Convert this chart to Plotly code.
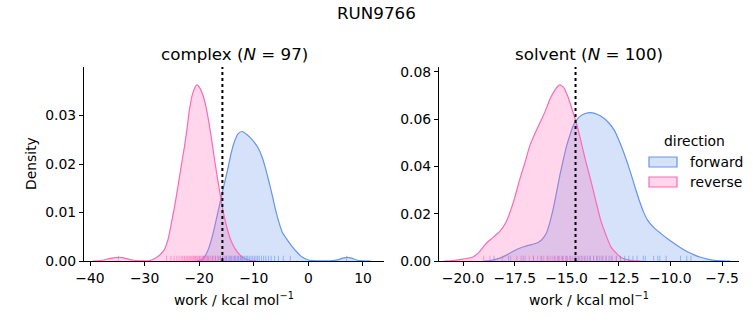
import plotly.graph_objects as go

# Kernel density estimates of the work distributions (work in kcal/mol, density)
complex_rev_x = [-39.5, -38.5, -37.5, -36.5, -35.5, -34.7, -34.0, -33.0, -32.0, -31.0, -30.0, -29.0,
                 -28.5, -28.0, -27.0, -26.4, -25.7, -25.1, -24.5, -23.9, -23.3, -22.7, -22.2, -21.8,
                 -21.2, -20.45, -19.8, -19.05, -18.4, -17.8, -17.2, -16.6, -16.0, -15.4, -14.8, -14.2,
                 -13.4, -12.5, -11.5, -10.5, -9.5]
complex_rev_y = [0, 0.00005, 0.0002, 0.0005, 0.0007, 0.00076, 0.0007, 0.0004, 0.00015, 0.00005, 0.00003,
                 0.0001, 0.0003, 0.0006, 0.0015, 0.0023, 0.0045, 0.0078, 0.0113, 0.0153, 0.0195, 0.0236,
                 0.0275, 0.0311, 0.0345, 0.0363, 0.0355, 0.0332, 0.0297, 0.0256, 0.0210, 0.0167, 0.0127,
                 0.0091, 0.0064, 0.0043, 0.0025, 0.0012, 0.0004, 0.0001, 0]

complex_fwd_x = [-20.5, -19.5, -19.0, -18.3, -17.5, -16.6, -15.7, -14.8, -14.2, -13.55, -12.9, -12.15,
                 -11.4, -10.7, -10.0, -9.2, -8.5, -7.9, -7.3, -6.6, -6.0, -5.4, -4.8, -3.9, -3.0, -2.0,
                 -1.15, 0.0, 1.5, 3.0, 4.5, 5.5, 6.3, 7.1, 7.9, 8.8, 10.0, 11.5]
complex_fwd_y = [0, 0.0003, 0.0009, 0.0025, 0.0055, 0.0099, 0.0145, 0.0188, 0.0220, 0.0246, 0.0262,
                 0.0267, 0.0262, 0.0255, 0.0246, 0.0233, 0.0215, 0.0193, 0.0167, 0.0135, 0.0105, 0.0080,
                 0.0060, 0.0044, 0.0030, 0.0017, 0.0008, 0.0002, 0.00005, 0.00003, 0.0001, 0.0003, 0.0006,
                 0.00076, 0.0006, 0.0002, 0.00003, 0]

solvent_rev_x = [-20.9, -20.5, -20.0, -19.5, -19.2, -18.88, -18.55, -18.24, -17.95, -17.75, -17.5, -17.27,
                 -17.0, -16.79, -16.55, -16.3, -16.05, -15.82, -15.55, -15.34, -15.15, -14.94, -14.73,
                 -14.53, -14.32, -14.1, -13.84, -13.6, -13.36, -13.1, -12.87, -12.6, -12.39, -12.1, -11.8,
                 -11.4]
solvent_rev_y = [0, 0.0002, 0.0008, 0.0018, 0.0040, 0.0075, 0.0100, 0.0124, 0.0160, 0.0202, 0.0270, 0.0343,
                 0.0420, 0.0484, 0.0535, 0.0583, 0.0630, 0.0682, 0.0725, 0.0745, 0.0735, 0.0696, 0.0640,
                 0.0583, 0.0512, 0.0430, 0.0343, 0.0258, 0.0174, 0.0110, 0.0061, 0.0033, 0.0016, 0.0006,
                 0.0002, 0]

solvent_fwd_x = [-19.0, -18.7, -18.3, -17.9, -17.6, -17.27, -16.9, -16.46, -16.2, -15.98, -15.82, -15.66,
                 -15.5, -15.34, -15.17, -15.01, -14.85, -14.7, -14.53, -14.37, -14.1, -13.84, -13.5, -13.2,
                 -12.95, -12.71, -12.47, -12.23, -11.9, -11.7, -11.5, -11.3, -11.1, -10.8, -10.46, -10.14,
                 -9.82, -9.5, -9.17, -8.85, -8.53, -8.2, -7.89, -7.5, -7.1]
solvent_fwd_y = [0, 0.0002, 0.0010, 0.0025, 0.0040, 0.0054, 0.0065, 0.0075, 0.0090, 0.0117, 0.0160, 0.0216,
                 0.0285, 0.0357, 0.0425, 0.0484, 0.0530, 0.0569, 0.0595, 0.0611, 0.0624, 0.0628, 0.0620,
                 0.0604, 0.0583, 0.0555, 0.0510, 0.0456, 0.0371, 0.0313, 0.0258, 0.0210, 0.0174, 0.0142,
                 0.0117, 0.0095, 0.0075, 0.0056, 0.0039, 0.0026, 0.0016, 0.0008, 0.0003, 0.0001, 0]

# Individual work values shown as rug ticks
complex_rev_work = [-34.8, -26.0, -25.2, -24.6, -24.1, -23.7, -23.3, -23.0, -22.7, -22.4, -22.2, -21.9,
                    -21.7, -21.5, -21.3, -21.1, -20.9, -20.7, -20.6, -20.4, -20.2, -20.0, -19.9, -19.7,
                    -19.5, -19.3, -19.1, -18.9, -18.7, -18.4, -18.2, -17.9, -17.6, -17.3, -17.0, -16.6,
                    -16.2, -15.7, -15.1, -14.3, -13.5, -12.4]
complex_fwd_work = [-19.3, -18.4, -17.6, -17.0, -16.5, -16.1, -15.7, -15.3, -15.0, -14.7, -14.4, -14.1,
                    -13.8, -13.5, -13.3, -13.0, -12.8, -12.5, -12.3, -12.1, -11.8, -11.6, -11.3, -11.1,
                    -10.8, -10.5, -10.2, -9.9, -9.6, -9.3, -9.0, -8.6, -8.2, -7.8, -7.3, -6.8, -6.2, -5.5,
                    -4.6, -3.3, 7.0]
solvent_rev_work = [-19.0, -18.7, -18.1, -17.7, -17.4, -17.2, -17.0, -16.8, -16.6, -16.4, -16.25, -16.1,
                    -15.95, -15.8, -15.7, -15.55, -15.45, -15.35, -15.25, -15.15, -15.05, -14.95, -14.85,
                    -14.7, -14.55, -14.4, -14.25, -14.1, -13.9, -13.7, -13.5, -13.3, -13.1, -12.85, -12.6]
solvent_fwd_work = [-18.5, -17.8, -17.1, -16.6, -16.2, -15.9, -15.6, -15.4, -15.2, -15.0, -14.8, -14.6,
                    -14.45, -14.3, -14.15, -14.0, -13.85, -13.7, -13.55, -13.4, -13.25, -13.1, -12.95,
                    -12.8, -12.6, -12.4, -12.2, -12.0, -11.8, -11.6, -11.3, -11.2, -10.8, -10.6, -10.5,
                    -10.2, -9.5, -9.2, -9.0]

# Free energy estimates marked with dotted lines
complex_dg = -15.75
solvent_dg = -14.57

titles = ["complex (<i>N</i> = 97)", "solvent (<i>N</i> = 100)"]
directions = ["forward", "reverse"]

BLUE = "#6495ED"
PINK = "#FF69B4"
FILL = {"forward": "rgba(100,149,237,0.27)", "reverse": "rgba(255,105,180,0.27)"}
LINE = {"forward": BLUE, "reverse": PINK}
RUG = {"forward": "rgba(100,149,237,0.6)", "reverse": "rgba(255,105,180,0.6)"}
FONT = "DejaVu Sans"
TXT = 13.9
TITLE = 16.7

panels = [
    dict(xa="x", ya="y", ymax=0.040,
         kde={"forward": (complex_fwd_x, complex_fwd_y), "reverse": (complex_rev_x, complex_rev_y)},
         rug={"forward": complex_fwd_work, "reverse": complex_rev_work}, dg=complex_dg),
    dict(xa="x2", ya="y2", ymax=0.0821,
         kde={"forward": (solvent_fwd_x, solvent_fwd_y), "reverse": (solvent_rev_x, solvent_rev_y)},
         rug={"forward": solvent_fwd_work, "reverse": solvent_rev_work}, dg=solvent_dg),
]

fig = go.Figure()
for i, p in enumerate(panels):
    for d in directions:
        xs, ys = p["kde"][d]
        fig.add_trace(go.Scatter(
            x=xs, y=ys, mode="lines", fill="tozeroy", fillcolor=FILL[d],
            line=dict(color=LINE[d], width=1.2, shape="spline", smoothing=0.6),
            name=d, showlegend=False, xaxis=p["xa"], yaxis=p["ya"]))
    h = 0.027 * p["ymax"]
    for d in directions:
        rx, ry = [], []
        for v in p["rug"][d]:
            rx += [v, v, None]
            ry += [0, h, None]
        fig.add_trace(go.Scatter(
            x=rx, y=ry, mode="lines", line=dict(color=RUG[d], width=1),
            showlegend=False, hoverinfo="skip", xaxis=p["xa"], yaxis=p["ya"]))
    fig.add_shape(type="line", xref=p["xa"], yref=p["ya"] + " domain",
                  x0=p["dg"], x1=p["dg"], y0=0, y1=1,
                  line=dict(color="black", width=2, dash="dot"))

W, H = 753, 325
ydom = [(H - 261) / H, (H - 67) / H]
axis_common = dict(showline=True, linecolor="black", linewidth=1, ticks="outside",
                   ticklen=4, tickwidth=1, tickcolor="black", showgrid=False, zeroline=False,
                   tickfont=dict(family=FONT, size=TXT, color="black"), mirror=False,
                   automargin=False)

fig.update_layout(
    width=W, height=H, margin=dict(l=0, r=0, t=0, b=0),
    paper_bgcolor="white", plot_bgcolor="white",
    font=dict(family=FONT, size=TXT, color="black"),
    xaxis=dict(domain=[84 / W, 384 / W], range=[-41.1, 13.85],
               tickvals=[-40, -30, -20, -10, 0, 10], anchor="y", **axis_common),
    yaxis=dict(domain=ydom, range=[0, 0.040], tickvals=[0, 0.01, 0.02, 0.03], tickformat=".2f",
               anchor="x", **axis_common),
    xaxis2=dict(domain=[439 / W, 739 / W], range=[-21.16, -6.68],
                tickvals=[-20, -17.5, -15, -12.5, -10, -7.5], tickformat=".1f",
                anchor="y2", **axis_common),
    yaxis2=dict(domain=ydom, range=[0, 0.0821], tickvals=[0, 0.02, 0.04, 0.06, 0.08], tickformat=".2f",
                anchor="x2", **axis_common),
    showlegend=False,
)

def label(text, xpx, ypx, size=TXT, angle=0, anchor="center"):
    fig.add_annotation(text=text, x=xpx / W, y=1 - ypx / H, xref="paper", yref="paper",
                       showarrow=False, font=dict(size=size), xanchor=anchor,
                       yanchor="middle", textangle=angle)

label("RUN9766", 376, 13, size=TITLE)
label(titles[0], 234, 54, size=TITLE)
label(titles[1], 589, 54, size=TITLE)
label("work / kcal mol<sup>−1</sup>", 234, 299)
label("work / kcal mol<sup>−1</sup>", 589, 299)
label("Density", 31, 164, angle=-90)

# Legend: hue "direction" with patch swatches
label("direction", 694, 141)
for k, d in enumerate(directions):
    yc = 162 + 20 * k
    fig.add_shape(type="rect", xref="paper", yref="paper",
                  x0=649 / W, x1=677 / W, y0=1 - (yc + 5) / H, y1=1 - (yc - 5) / H,
                  fillcolor=FILL[d], line=dict(color=LINE[d], width=1.2))
    label(d, 688, yc, anchor="left")

fig.write_html("out.html")
